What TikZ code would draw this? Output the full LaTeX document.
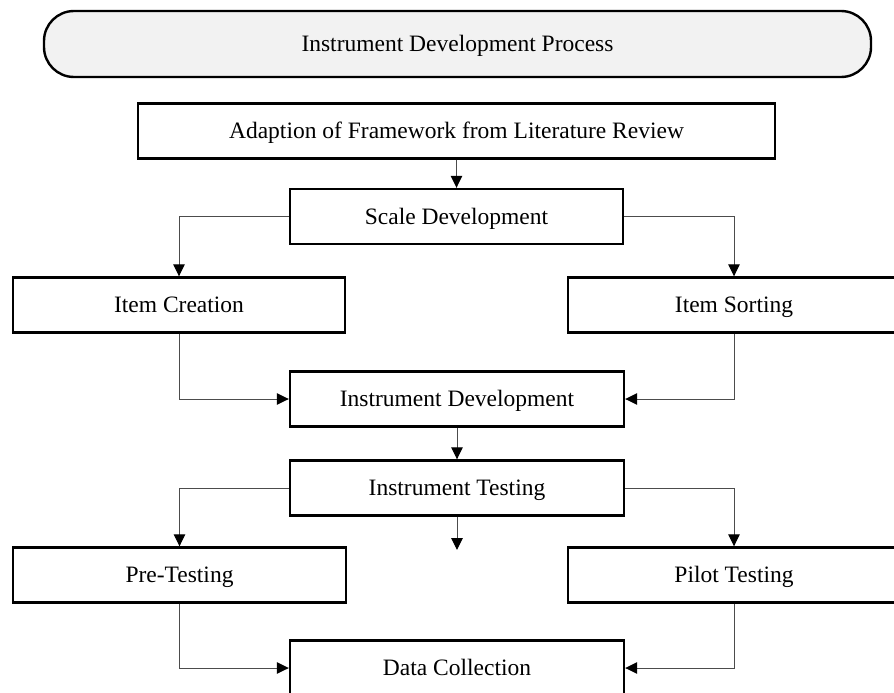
\documentclass[tikz,border=0pt]{standalone}
\usepackage{fontspec}
\setmainfont{Liberation Serif}
\usetikzlibrary{arrows.meta}
\begin{document}
\begin{tikzpicture}[x=1pt,y=-1pt,
  box/.style={draw=black, line width=2.4pt, fill=white, inner sep=0pt,
    minimum height=55pt, text height=18pt, text depth=3pt,
    font=\fontsize{23.5}{28}\selectfont},
  title/.style={box, fill=black!5, rounded corners=30pt},
  link/.style={draw=black!70, line width=1pt,
    -{Triangle[length=12pt,width=11.5pt,color=black,fill=black]}},
]
\useasboundingbox (0,0) rectangle (894,693);
\clip (0,0) rectangle (894,693);

% heading
\node[title, minimum width=827pt, minimum height=66pt] (head) at (457.5,44) {Instrument Development Process};

% process boxes
\node[box, minimum width=637pt] (adapt)   at (456.5,131) {Adaption of Framework from Literature Review};
\node[box, minimum width=333pt] (scale)   at (456.5,216.5) {Scale Development};
\node[box, minimum width=332pt] (create)  at (179,305) {Item Creation};
\node[box, minimum width=332pt] (sort)    at (734,305) {Item Sorting};
\node[box, minimum width=334pt] (instdev) at (457,399) {Instrument Development};
\node[box, minimum width=334pt] (test)    at (457,488) {Instrument Testing};
\node[box, minimum width=333pt] (pre)     at (179.5,575) {Pre-Testing};
\node[box, minimum width=332pt] (pilot)   at (734,575) {Pilot Testing};
\node[box, minimum width=334pt] (data)    at (457,668) {Data Collection};

\coordinate (loose) at (457,550);

% connectors
\draw[link] (adapt.south) -- (scale.north);
\draw[link] (scale.west) -| (create.north);
\draw[link] (scale.east) -| (sort.north);
\draw[link] (create.south) |- (instdev.west);
\draw[link] (sort.south) |- (instdev.east);
\draw[link] (instdev.south) -- (test.north);
\draw[link] (test.west) -| (pre.north);
\draw[link] (test.east) -| (pilot.north);
\draw[link] (test.south) -- (loose);
\draw[link] (pre.south) |- (data.west);
\draw[link] (pilot.south) |- (data.east);
\end{tikzpicture}
\end{document}
